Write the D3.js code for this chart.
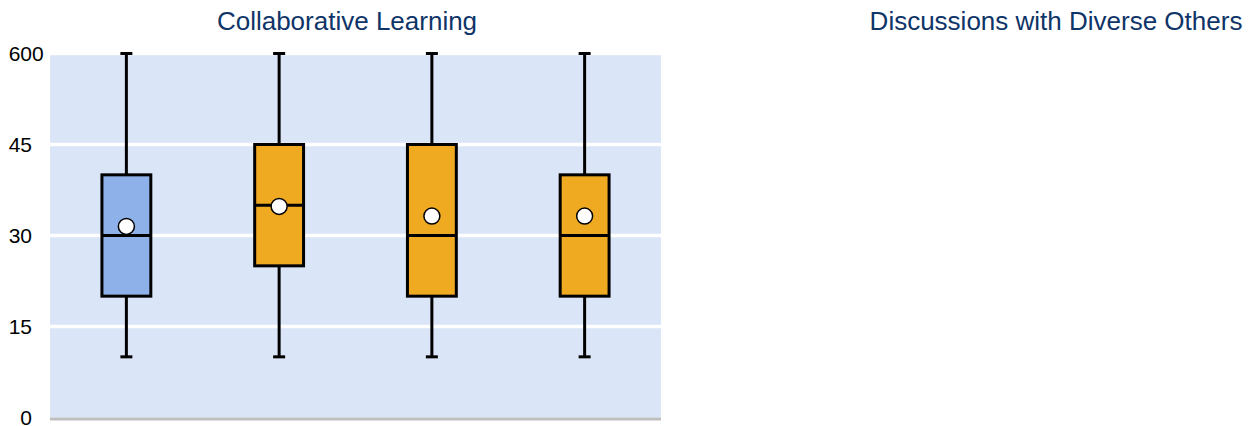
<!DOCTYPE html>
<html>
<head>
<meta charset="utf-8">
<script src="https://cdn.jsdelivr.net/npm/d3@7"></script>
<style>
  html, body { margin: 0; padding: 0; background: #ffffff; }
  svg { display: block; }
</style>
</head>
<body>
<svg id="chart" width="1251" height="426"></svg>
<script>
// ---- data ----
const categories = ["Group 1", "Group 2", "Group 3", "Group 4"];
const whiskerLow = [10, 10, 10, 10];
const q1 = [20, 25, 20, 20];
const median = [30, 35, 30, 30];
const q3 = [40, 45, 45, 40];
const whiskerHigh = [60, 60, 60, 60];
const mean = [31.5, 34.8, 33.2, 33.2];
const tickValues = [0, 15, 30, 45, 60];
const tickLabels = ["0", "15", "30", "45", "600"];
const panelTitles = ["Collaborative Learning", "Discussions with Diverse Others"];

// ---- styling ----
const FONT = "'Liberation Sans', Arial, Helvetica, sans-serif";
const titleColor = "#0e3468";
const bgColor = "#dae5f7";
const highlightFill = "#8fb1e9";
const otherFill = "#f0aa22";

const svg = d3.select("#chart");

const x = d3.scaleBand().domain(categories).range([50, 661]).padding(0);
const y = d3.scaleLinear().domain([0, 60]).range([417.5, 53.5]);

// titles
svg.append("text")
  .attr("x", 347).attr("y", 29.5)
  .attr("text-anchor", "middle")
  .attr("font-family", FONT).attr("font-size", 26)
  .attr("fill", titleColor)
  .text(panelTitles[0]);
svg.append("text")
  .attr("x", 1056).attr("y", 29.5)
  .attr("text-anchor", "middle")
  .attr("font-family", FONT).attr("font-size", 26)
  .attr("fill", titleColor)
  .text(panelTitles[1]);

// plot background
svg.append("rect")
  .attr("x", x.range()[0]).attr("y", y(60))
  .attr("width", x.range()[1] - x.range()[0])
  .attr("height", y(0) - y(60))
  .attr("fill", bgColor);

// gridlines
svg.append("g").selectAll("line")
  .data(tickValues.filter(v => v > 0))
  .join("line")
  .attr("x1", x.range()[0]).attr("x2", x.range()[1])
  .attr("y1", d => y(d)).attr("y2", d => y(d))
  .attr("stroke", "#ffffff").attr("stroke-width", 3.5);

// baseline
svg.append("line")
  .attr("x1", x.range()[0]).attr("x2", x.range()[1])
  .attr("y1", y(0) + 1.5).attr("y2", y(0) + 1.5)
  .attr("stroke", "#bfbfbf").attr("stroke-width", 3);

// y axis
const yAxis = d3.axisLeft(y)
  .tickValues(tickValues)
  .tickFormat((d, i) => tickLabels[i])
  .tickSize(0).tickPadding(0);
const gy = svg.append("g").attr("transform", "translate(32,0)").call(yAxis);
gy.select(".domain").remove();
gy.selectAll("text")
  .attr("font-family", FONT).attr("font-size", 21).attr("fill", "#000")
  .attr("dx", (d, i) => (tickLabels[i].length > 2 ? (tickLabels[i].length - 2) * 0.556 + "em" : 0));

// boxes
const boxW = x.bandwidth() * 0.32;
const capW = 12;
const g = svg.append("g");
categories.forEach((c, i) => {
  const cx = x(c) + x.bandwidth() / 2;
  const fill = i === 0 ? highlightFill : otherFill;
  // whiskers
  g.append("line").attr("x1", cx).attr("x2", cx)
    .attr("y1", y(whiskerHigh[i])).attr("y2", y(q3[i]))
    .attr("stroke", "#000").attr("stroke-width", 3);
  g.append("line").attr("x1", cx).attr("x2", cx)
    .attr("y1", y(q1[i])).attr("y2", y(whiskerLow[i]))
    .attr("stroke", "#000").attr("stroke-width", 3);
  // caps
  [whiskerHigh[i], whiskerLow[i]].forEach(v => {
    g.append("line").attr("x1", cx - capW / 2).attr("x2", cx + capW / 2)
      .attr("y1", y(v)).attr("y2", y(v))
      .attr("stroke", "#000").attr("stroke-width", 3);
  });
  // box
  g.append("rect")
    .attr("x", cx - boxW / 2).attr("y", y(q3[i]))
    .attr("width", boxW).attr("height", y(q1[i]) - y(q3[i]))
    .attr("fill", fill).attr("stroke", "#000").attr("stroke-width", 3);
  // median
  g.append("line").attr("x1", cx - boxW / 2).attr("x2", cx + boxW / 2)
    .attr("y1", y(median[i])).attr("y2", y(median[i]))
    .attr("stroke", "#000").attr("stroke-width", 3);
  // mean
  g.append("circle").attr("cx", cx).attr("cy", y(mean[i])).attr("r", 8)
    .attr("fill", "#fff").attr("stroke", "#000").attr("stroke-width", 1.5);
});
</script>
</body>
</html>
